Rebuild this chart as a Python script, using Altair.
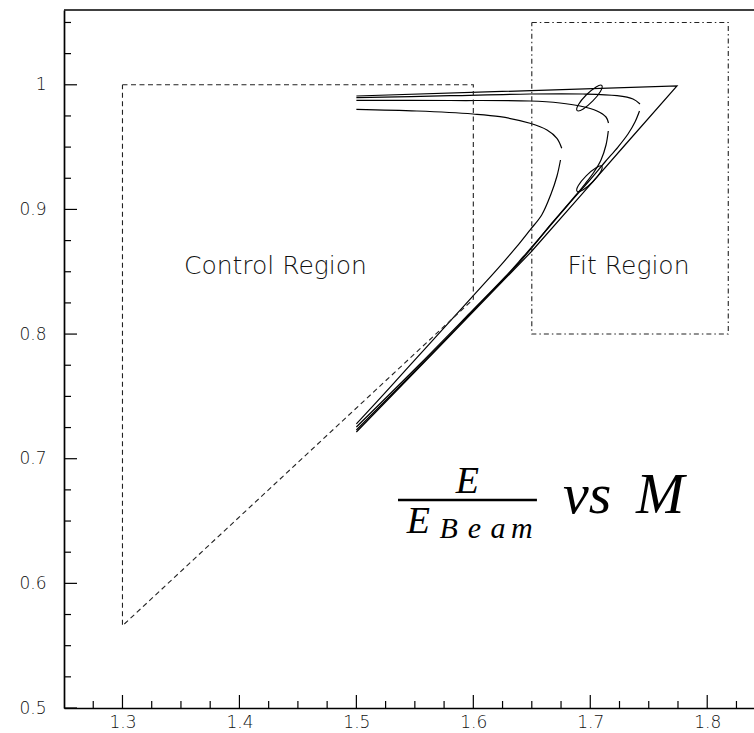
import altair as alt
import pandas as pd

W, H = 690, 698

# ---------------- axis ticks ----------------
x_major = [1.3, 1.4, 1.5, 1.6, 1.7, 1.8]
x_minor = [1.275, 1.325, 1.35, 1.375, 1.425, 1.45, 1.475, 1.525, 1.55, 1.575,
           1.625, 1.65, 1.675, 1.725, 1.75, 1.775, 1.825]
y_major = [0.5, 0.6, 0.7, 0.8, 0.9, 1.0]
y_minor = [0.525, 0.55, 0.575, 0.625, 0.65, 0.675, 0.725, 0.75, 0.775, 0.825,
           0.85, 0.875, 0.925, 0.95, 0.975, 1.025, 1.05]

# ---------------- kinematic boundary curves ----------------
A_up_x = [1.5, 1.5518, 1.5997, 1.6228, 1.6485, 1.6630, 1.6715, 1.6756]
A_up_y = [0.98033, 0.97897, 0.97656, 0.97439, 0.96910, 0.96372, 0.95706, 0.94904]
A_lo_x = [1.67454, 1.67155, 1.66642, 1.65847, 1.64846, 1.63709, 1.62563, 1.61144,
          1.57433, 1.55158, 1.52875, 1.5]
A_lo_y = [0.93965, 0.92682, 0.91237, 0.89553, 0.88349, 0.87010, 0.85758, 0.84265,
          0.80438, 0.78088, 0.75729, 0.72792]

B_up_x = [1.5, 1.58006, 1.64846, 1.67411, 1.69121, 1.70575, 1.71345, 1.71559]
B_up_y = [0.98755, 0.98739, 0.98699, 0.98539, 0.98298, 0.97897, 0.97415, 0.96934]
B_lo_x = [1.71541, 1.71345, 1.70917, 1.70319, 1.69549, 1.68779, 1.67839, 1.66727,
          1.65530, 1.64247, 1.62709, 1.59716, 1.55440, 1.5]
B_lo_y = [0.96292, 0.95169, 0.93965, 0.93003, 0.92040, 0.91157, 0.90114, 0.88911,
          0.87547, 0.86183, 0.84578, 0.81690, 0.77598, 0.72544]

C_up_x = [1.5, 1.58006, 1.64846, 1.69378, 1.72285, 1.73653, 1.74252]
C_up_y = [0.98964, 0.99124, 0.99261, 0.99261, 0.99124, 0.98859, 0.98458]
C_lo_x = [1.74209, 1.73824, 1.73226, 1.72371, 1.71259, 1.69891, 1.68010, 1.66043,
          1.63820, 1.60443, 1.56168, 1.5]
C_lo_y = [0.97897, 0.97014, 0.96051, 0.95008, 0.93805, 0.92280, 0.90275, 0.88109,
          0.85621, 0.82332, 0.78160, 0.72303]

D_x = [1.5, 1.77416, 1.72970, 1.69121, 1.64932, 1.57151, 1.5]
D_y = [0.99100, 0.99902, 0.95169, 0.91053, 0.86584, 0.79042, 0.72142]

# ---------------- signal contours ----------------
E1_x = [1.7098, 1.7088, 1.7022, 1.6940, 1.6888, 1.6898, 1.6965, 1.7050]
E1_y = [0.99950, 0.99480, 0.98700, 0.98060, 0.97930, 0.98400, 0.99180, 0.99820]
E2_x = [1.7098, 1.7088, 1.7022, 1.6940, 1.6888, 1.6898, 1.6965, 1.7050]
E2_y = [0.93470, 0.93000, 0.92220, 0.91580, 0.91450, 0.91920, 0.92700, 0.93340]

# ---------------- regions ----------------
ctrl_x = [1.3, 1.6, 1.6, 1.3, 1.3]
ctrl_y = [1.0, 1.0, 0.828, 0.566, 1.0]
fit_x = [1.65, 1.818, 1.818, 1.65, 1.65]
fit_y = [1.05, 1.05, 0.80, 0.80, 1.05]

region_labels = ["Control Region", "Fit Region"]
region_lx = [1.4308, 1.7327]
region_ly = [0.8482, 0.8482]

# ---------------- formula  E / E_Beam  vs  M ----------------
frac_x = [1.5356]
frac_x2 = [1.6544]
frac_y = [0.6669]
big_txt = ["E", "E"]
big_x = [1.595, 1.5530]
big_y = [0.6725, 0.6404]
sub_txt = ["B", "e", "a", "m"]
sub_x = [1.5790, 1.6010, 1.6210, 1.6415]
sub_y = [0.6361, 0.6361, 0.6361, 0.6361]
vs_txt = ["vs", "M"]
vs_x = [1.6767, 1.7390]
vs_y = [0.6564, 0.6564]


def seg(name, xs, ys):
    return pd.DataFrame({"x": xs, "y": ys, "seg": name, "i": list(range(len(xs)))})


xs = alt.Scale(domain=[1.25, 1.84], nice=False, zero=False)
ys = alt.Scale(domain=[0.5, 1.06], nice=False, zero=False)

LABEL_FONT = "DejaVu Sans"

x_axis = alt.Axis(values=x_major, format="~g", ticks=False, grid=False,
                  domain=True, domainColor="black", domainWidth=1.7, title=None,
                  labelFont=LABEL_FONT, labelFontSize=17, labelFontWeight=200,
                  labelColor="#111", labelPadding=6)
y_axis = alt.Axis(values=y_major, format="~g", ticks=False, grid=False,
                  domain=True, domainColor="black", domainWidth=1.7, title=None,
                  labelFont=LABEL_FONT, labelFontSize=17, labelFontWeight=200,
                  labelColor="#111", labelPadding=18)


def X(f="x"):
    return alt.X(f"{f}:Q", scale=xs, axis=x_axis, title=None)


def Y(f="y"):
    return alt.Y(f"{f}:Q", scale=ys, axis=y_axis, title=None)


smooth_df = pd.concat([
    seg("A_up", A_up_x, A_up_y), seg("A_lo", A_lo_x, A_lo_y),
    seg("B_up", B_up_x, B_up_y), seg("B_lo", B_lo_x, B_lo_y),
    seg("C_up", C_up_x, C_up_y), seg("C_lo", C_lo_x, C_lo_y),
], ignore_index=True)

curves = alt.Chart(smooth_df).mark_line(
    interpolate="catmull-rom", color="black", strokeWidth=1.2
).encode(x=X(), y=Y(), detail="seg:N", order="i:Q")

outer = alt.Chart(seg("D", D_x, D_y)).mark_line(
    color="black", strokeWidth=1.2
).encode(x=X(), y=Y(), order="i:Q")

ell_df = pd.concat([seg("E1", E1_x, E1_y), seg("E2", E2_x, E2_y)], ignore_index=True)
ellipses = alt.Chart(ell_df).mark_line(
    interpolate="cardinal-closed", color="black", strokeWidth=1.1
).encode(x=X(), y=Y(), detail="seg:N", order="i:Q")

ctrl = alt.Chart(seg("ctrl", ctrl_x, ctrl_y)).mark_line(
    color="#222", strokeWidth=1.1, strokeDash=[5, 3.5]
).encode(x=X(), y=Y(), order="i:Q")

fit = alt.Chart(seg("fit", fit_x, fit_y)).mark_line(
    color="#222", strokeWidth=1.1, strokeDash=[5, 3, 1.5, 3]
).encode(x=X(), y=Y(), order="i:Q")

xt_major = alt.Chart(pd.DataFrame({"v": x_major})).mark_rule(color="black", strokeWidth=1.2).encode(
    x=X("v"), y=alt.value(H), y2=alt.value(H - 13))
xt_minor = alt.Chart(pd.DataFrame({"v": x_minor})).mark_rule(color="black", strokeWidth=1.2).encode(
    x=X("v"), y=alt.value(H), y2=alt.value(H - 7))
yt_major = alt.Chart(pd.DataFrame({"v": y_major})).mark_rule(color="black", strokeWidth=1.2).encode(
    y=Y("v"), x=alt.value(0), x2=alt.value(13))
yt_minor = alt.Chart(pd.DataFrame({"v": y_minor})).mark_rule(color="black", strokeWidth=1.2).encode(
    y=Y("v"), x=alt.value(0), x2=alt.value(7))

top_frame = alt.Chart(pd.DataFrame({"v": [0]})).mark_rule(color="black", strokeWidth=1.6).encode(
    x=alt.value(0), x2=alt.value(W), y=alt.value(0))

reg_text = alt.Chart(pd.DataFrame({"t": region_labels, "x": region_lx, "y": region_ly})).mark_text(
    font=LABEL_FONT, fontSize=25, fontWeight=200, color="#111", align="center", baseline="alphabetic"
).encode(x=X(), y=Y(), text="t:N")

frac = alt.Chart(pd.DataFrame({"x": frac_x, "x2": frac_x2, "y": frac_y})).mark_rule(
    color="black", strokeWidth=2.6
).encode(x=X(), x2="x2:Q", y=Y())

big = alt.Chart(pd.DataFrame({"t": big_txt, "x": big_x, "y": big_y})).mark_text(
    font="Liberation Serif", fontStyle="italic", fontSize=38, color="black",
    align="center", baseline="alphabetic"
).encode(x=X(), y=Y(), text="t:N")

sub = alt.Chart(pd.DataFrame({"t": sub_txt, "x": sub_x, "y": sub_y})).mark_text(
    font="Liberation Serif", fontStyle="italic", fontSize=30, color="black",
    align="center", baseline="alphabetic"
).encode(x=X(), y=Y(), text="t:N")

vs = alt.Chart(pd.DataFrame({"t": vs_txt, "x": vs_x, "y": vs_y})).mark_text(
    font="Liberation Serif", fontStyle="italic", fontSize=58, color="black",
    align="left", baseline="alphabetic"
).encode(x=X(), y=Y(), text="t:N")

chart = alt.layer(
    curves, outer, ellipses, ctrl, fit,
    xt_major, xt_minor, yt_major, yt_minor, top_frame,
    reg_text, frac, big, sub, vs
).properties(
    width=W, height=H,
    autosize=alt.AutoSizeParams(type="none"),
    padding={"left": 64, "top": 10, "right": 0, "bottom": 25},
    background="white",
).configure_view(strokeWidth=0)

chart.save("out.html", embed_options={"renderer": "svg", "actions": False})
